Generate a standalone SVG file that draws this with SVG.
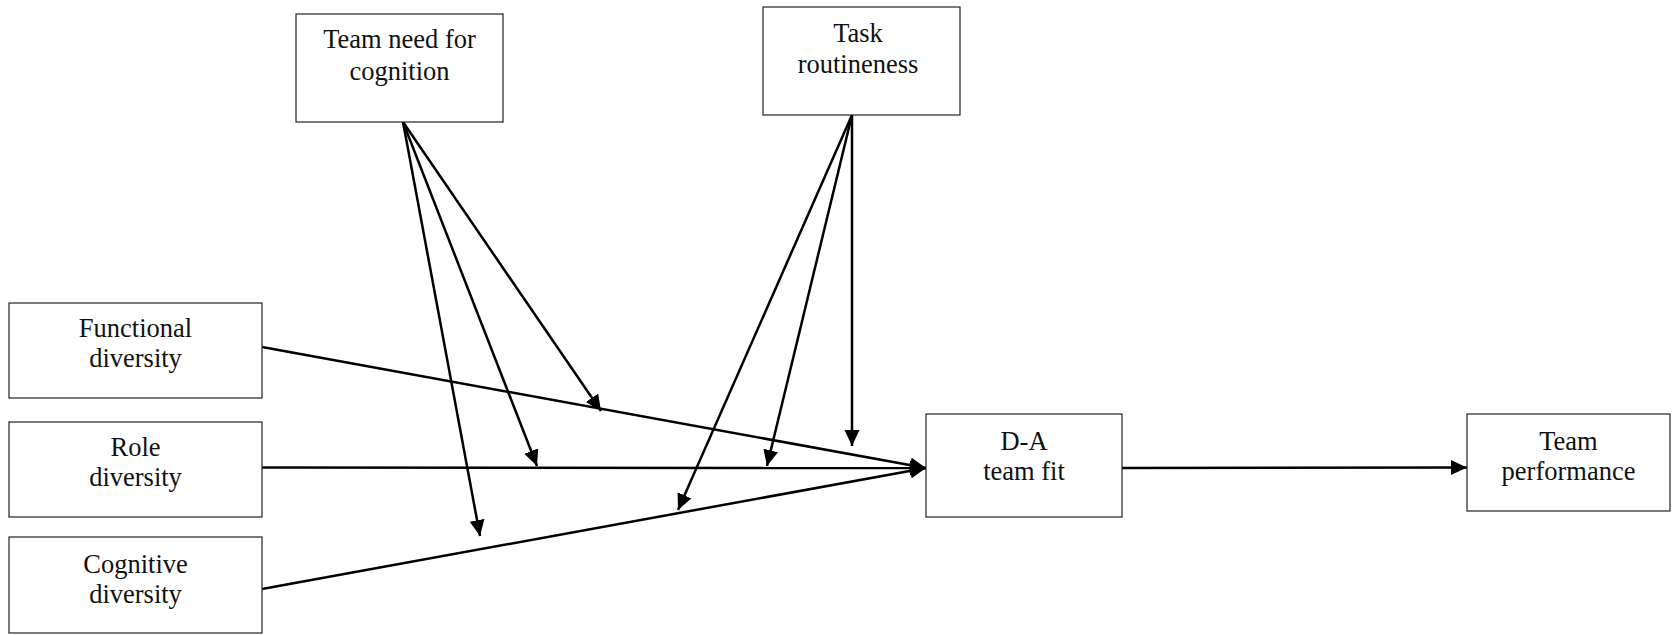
<svg xmlns="http://www.w3.org/2000/svg" width="1676" height="635" viewBox="0 0 1676 635">
<style>
.box{fill:#fff;stroke:#222;stroke-width:1.2}
.t{font-family:"Liberation Serif","Times New Roman",serif;font-size:26.5px;fill:#111;text-anchor:middle}
.c{stroke:#000;stroke-width:2.5;fill:none;marker-end:url(#ah)}
</style>
<defs>
<marker id="ah" markerUnits="userSpaceOnUse" markerWidth="17" markerHeight="16" refX="16" refY="7.5" orient="auto">
<path d="M0,0 L16,7.5 L0,15 Z" fill="#000"/>
</marker>
</defs>
<rect width="1676" height="635" fill="#fff"/>
<g id="connectors">
<line class="c" x1="262" y1="347" x2="926" y2="468"/>
<line class="c" x1="262" y1="467.5" x2="926" y2="468"/>
<line class="c" x1="262" y1="589" x2="926" y2="468"/>
<line class="c" x1="1122" y1="468" x2="1467" y2="467.5"/>
<line class="c" x1="403" y1="122" x2="601" y2="411"/>
<line class="c" x1="403" y1="122" x2="537" y2="466"/>
<line class="c" x1="403" y1="122" x2="480" y2="536"/>
<line class="c" x1="852" y1="115" x2="852" y2="446"/>
<line class="c" x1="852" y1="115" x2="767" y2="466"/>
<line class="c" x1="852" y1="115" x2="678" y2="510"/>
</g>
<g id="team-need-for-cognition">
<rect class="box" x="296" y="14" width="207" height="108"/>
<text class="t" x="399.5" y="48">Team need for</text>
<text class="t" x="399.5" y="80">cognition</text>
</g>
<g id="task-routineness">
<rect class="box" x="763" y="7" width="197" height="108"/>
<text class="t" x="858" y="42">Task</text>
<text class="t" x="858" y="73">routineness</text>
</g>
<g id="functional-diversity">
<rect class="box" x="9" y="303" width="253" height="95"/>
<text class="t" x="135.5" y="337">Functional</text>
<text class="t" x="135.5" y="367">diversity</text>
</g>
<g id="role-diversity">
<rect class="box" x="9" y="422" width="253" height="95"/>
<text class="t" x="135.5" y="456">Role</text>
<text class="t" x="135.5" y="486">diversity</text>
</g>
<g id="cognitive-diversity">
<rect class="box" x="9" y="537" width="253" height="96"/>
<text class="t" x="135.5" y="573">Cognitive</text>
<text class="t" x="135.5" y="603">diversity</text>
</g>
<g id="da-team-fit">
<rect class="box" x="926" y="414" width="196" height="103"/>
<text class="t" x="1024" y="450">D-A</text>
<text class="t" x="1024" y="480">team fit</text>
</g>
<g id="team-performance">
<rect class="box" x="1467" y="414" width="203" height="97"/>
<text class="t" x="1568.5" y="450">Team</text>
<text class="t" x="1568.5" y="480">performance</text>
</g>
</svg>
